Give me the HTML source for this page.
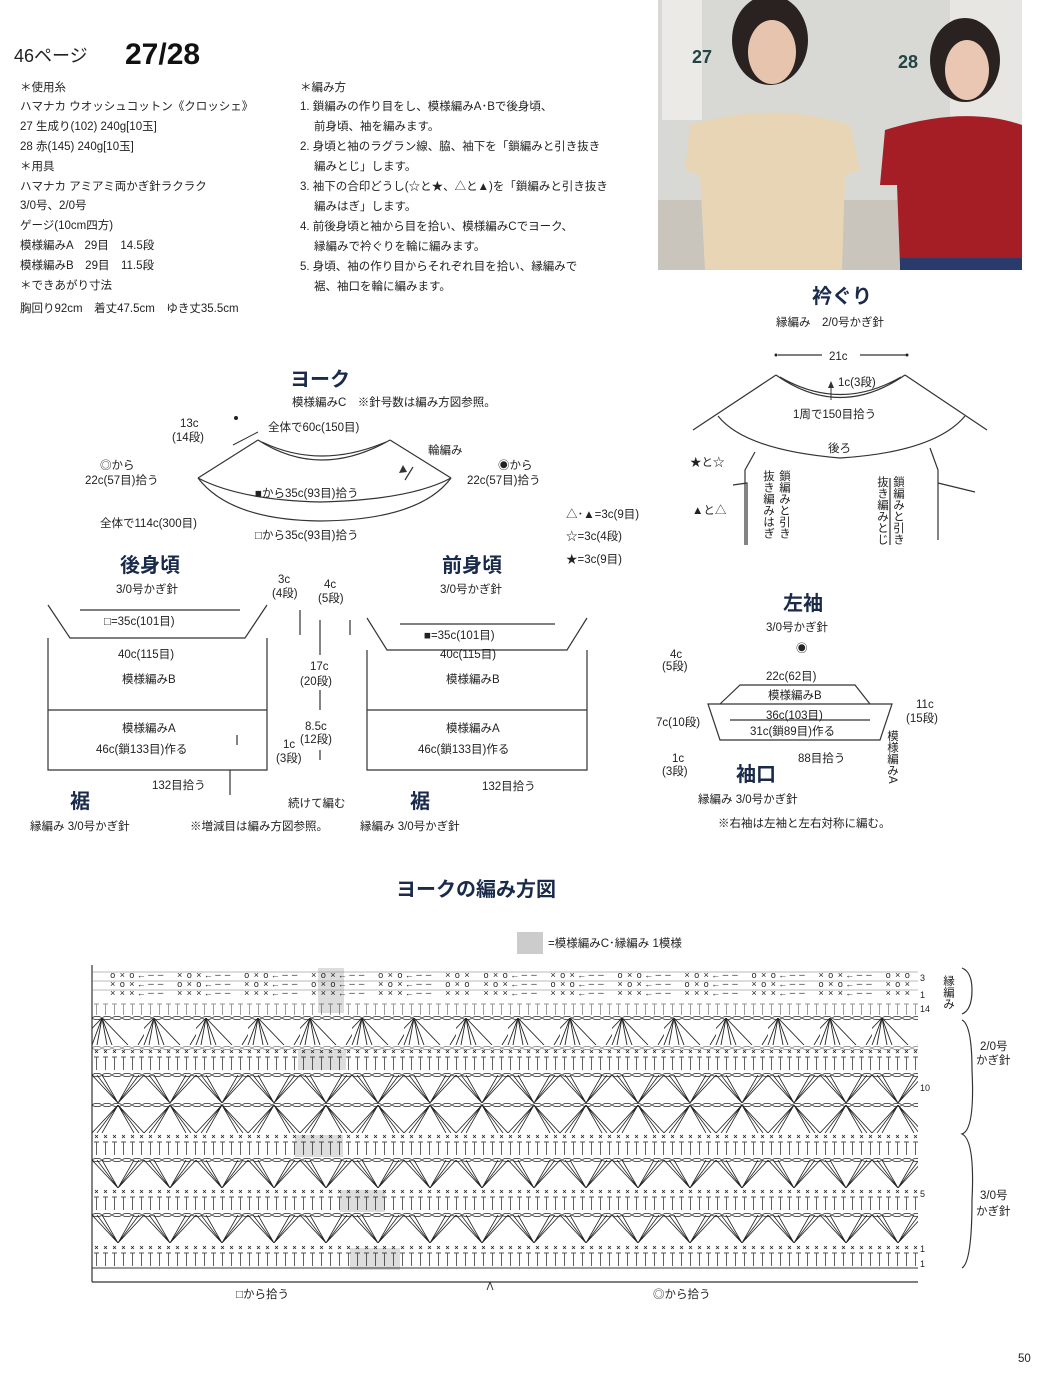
<!DOCTYPE html>
<html><head><meta charset="utf-8">
<style>
body{margin:0;background:#fff;}
svg{display:block;font-family:"Liberation Sans","Noto Sans CJK JP",sans-serif;}
.s{font-size:11.5px;fill:#222}
.h{font-size:20px;font-weight:bold;fill:#1a2a4a}
.ln{stroke:#333;fill:none;stroke-width:1.2}
.ch{font-family:"Liberation Mono",monospace;font-size:9px;fill:#222}
</style></head><body>
<svg width="1050" height="1389" viewBox="0 0 1050 1389">
<defs>
<pattern id="fanA" x="0" y="0" width="52" height="27" patternUnits="userSpaceOnUse">
<path d="M10 0 L0 27 M10 0 L5 27 M10 0 L15 27 M10 0 L20 27 M10 0 L36 27 M10 0 L-16 27" stroke="#222" stroke-width="0.9" fill="none"/>
<path d="M62 0 L52 27 M62 0 L46 27" stroke="#222" stroke-width="0.9" fill="none"/>
</pattern>
<pattern id="zigD" x="0" y="0" width="52" height="28" patternUnits="userSpaceOnUse">
<path d="M0 0 L26 28 L52 0 M5 0 L26 28 L47 0 M10 0 L26 28 L42 0" stroke="#222" stroke-width="0.8" fill="none"/>
</pattern>
<pattern id="zigU" x="0" y="0" width="52" height="28" patternUnits="userSpaceOnUse">
<path d="M0 28 L26 0 L52 28 M5 28 L26 0 L47 28 M10 28 L26 0 L42 28" stroke="#222" stroke-width="0.8" fill="none"/>
</pattern>
<pattern id="tt" x="0" y="0" width="9" height="14" patternUnits="userSpaceOnUse">
<path d="M2 1 H7 M4.5 1 V14" stroke="#222" stroke-width="0.9"/>
</pattern>
<pattern id="xx" x="0" y="0" width="9" height="8" patternUnits="userSpaceOnUse">
<path d="M3 2 L6 5 M6 2 L3 5" stroke="#222" stroke-width="0.8"/>
</pattern>
<pattern id="ov" x="0" y="0" width="10" height="6" patternUnits="userSpaceOnUse">
<ellipse cx="5" cy="3" rx="4.5" ry="1.6" stroke="#222" stroke-width="0.7" fill="none"/>
</pattern>
</defs>

<!-- header -->
<text x="14" y="62" style="font-size:18px;fill:#222">46ページ</text>
<text x="125" y="64" style="font-size:30px;font-weight:bold;fill:#111">27/28</text>
<g class="s">
<text x="20" y="91">＊使用糸</text>
<text x="20" y="110">ハマナカ ウオッシュコットン《クロッシェ》</text>
<text x="20" y="130">27 生成り(102) 240g[10玉]</text>
<text x="20" y="150">28 赤(145) 240g[10玉]</text>
<text x="20" y="170">＊用具</text>
<text x="20" y="190">ハマナカ アミアミ両かぎ針ラクラク</text>
<text x="20" y="209">3/0号、2/0号</text>
<text x="20" y="229">ゲージ(10cm四方)</text>
<text x="20" y="249">模様編みA　29目　14.5段</text>
<text x="20" y="269">模様編みB　29目　11.5段</text>
<text x="20" y="289">＊できあがり寸法</text>
<text x="20" y="312">胸回り92cm　着丈47.5cm　ゆき丈35.5cm</text>
<text x="300" y="91">＊編み方</text>
<text x="300" y="110">1. 鎖編みの作り目をし、模様編みA･Bで後身頃、</text>
<text x="314" y="130">前身頃、袖を編みます。</text>
<text x="300" y="150">2. 身頃と袖のラグラン線、脇、袖下を「鎖編みと引き抜き</text>
<text x="314" y="170">編みとじ」します。</text>
<text x="300" y="190">3. 袖下の合印どうし(☆と★、△と▲)を「鎖編みと引き抜き</text>
<text x="314" y="210">編みはぎ」します。</text>
<text x="300" y="230">4. 前後身頃と袖から目を拾い、模様編みCでヨーク、</text>
<text x="314" y="250">縁編みで衿ぐりを輪に編みます。</text>
<text x="300" y="270">5. 身頃、袖の作り目からそれぞれ目を拾い、縁編みで</text>
<text x="314" y="290">裾、袖口を輪に編みます。</text>
</g>

<!-- photo -->
<rect x="658" y="0" width="364" height="270" fill="#d8d8d4"/>
<rect x="662" y="0" width="40" height="120" fill="#eceae6"/>
<rect x="950" y="0" width="72" height="150" fill="#e8e6e2"/>
<rect x="658" y="200" width="364" height="70" fill="#c9c4bc"/>
<ellipse cx="770" cy="40" rx="38" ry="45" fill="#2a2220"/>
<ellipse cx="772" cy="52" rx="24" ry="32" fill="#e7c4ad"/>
<path d="M690 125 Q770 100 850 125 L860 170 L845 175 L842 270 L705 270 L700 175 L685 170 Z" fill="#e8d5b5"/>
<ellipse cx="965" cy="60" rx="35" ry="42" fill="#2a2220"/>
<ellipse cx="967" cy="70" rx="22" ry="30" fill="#e9c7b2"/>
<path d="M885 130 Q965 105 1022 125 L1022 265 L900 265 L897 185 L880 185 Z" fill="#a61e25"/>
<rect x="900" y="258" width="122" height="12" fill="#2a3a6a"/>
<text x="692" y="63" style="font-size:18px;font-weight:bold;fill:#244">27</text>
<text x="898" y="68" style="font-size:18px;font-weight:bold;fill:#244">28</text>

<!-- yoke -->
<text x="290" y="386" class="h">ヨーク</text>
<text x="292" y="406" class="s">模様編みC　※針号数は編み方図参照。</text>
<path class="ln" d="M198 478 L258 440 M390 440 L451 478"/>
<path class="ln" d="M258 440 Q320 480 390 440"/>
<path class="ln" d="M262 442 Q320 470 386 442"/>
<path class="ln" d="M198 478 Q230 520 320 521 Q420 520 451 478"/>
<path class="ln" d="M198 478 Q240 500 320 502 Q410 500 451 478"/>
<path d="M413 467 L405 480" stroke="#333" stroke-width="1.2"/><path d="M399 473 L403 465 L407 472Z" fill="#333"/>
<path d="M233 445 L258 432" stroke="#333"/><circle cx="236" cy="418" r="2" fill="#222"/>
<text x="180" y="427" class="s">13c</text><text x="172" y="441" class="s">(14段)</text>
<text x="268" y="431" class="s">全体で60c(150目)</text>
<text x="428" y="454" class="s">輪編み</text>
<text x="100" y="469" class="s">◎から</text><text x="85" y="484" class="s">22c(57目)拾う</text>
<text x="498" y="469" class="s">◉から</text><text x="467" y="484" class="s">22c(57目)拾う</text>
<text x="255" y="497" class="s">■から35c(93目)拾う</text>
<text x="100" y="527" class="s">全体で114c(300目)</text>
<text x="255" y="539" class="s">□から35c(93目)拾う</text>
<text x="566" y="518" class="s">△･▲=3c(9目)</text>
<text x="566" y="540" class="s">☆=3c(4段)</text>
<text x="566" y="563" class="s">★=3c(9目)</text>

<!-- neckline -->
<text x="812" y="303" class="h">衿ぐり</text>
<text x="776" y="326" class="s">縁編み　2/0号かぎ針</text>
<text x="829" y="360" class="s">21c</text>
<circle cx="776" cy="355" r="1.5" fill="#222"/><circle cx="907" cy="355" r="1.5" fill="#222"/>
<path class="ln" d="M778 355 H822 M860 355 H906"/>
<path class="ln" d="M693 430 L776 375 M905 375 L987 430"/>
<path class="ln" d="M776 375 Q840 420 905 375 M780 377 Q840 412 901 377"/>
<path class="ln" d="M718 416 Q745 450 840 458 Q935 452 965 416"/>
<path d="M831 400 V385" stroke="#333"/><path d="M828 388 L831 381 L834 388Z" fill="#333"/>
<text x="838" y="386" class="s">1c(3段)</text>
<text x="793" y="418" class="s">1周で150目拾う</text>
<text x="828" y="452" class="s">後ろ</text>
<path class="ln" d="M755 452 L745 470 V545 M733 485 L747 483 V545 M930 448 L938 470 V483 L975 492 M938 473 V540 M890 478 V545"/>
<text x="690" y="466" class="s">★と☆</text>
<text x="692" y="514" class="s">▲と△</text>
<text x="768" y="470" class="s" writing-mode="tb">抜き編みはぎ</text>
<text x="784" y="470" class="s" writing-mode="tb">鎖編みと引き</text>
<text x="882" y="476" class="s" writing-mode="tb">抜き編みとじ</text>
<text x="898" y="476" class="s" writing-mode="tb">鎖編みと引き</text>

<!-- back body -->
<text x="120" y="572" class="h">後身頃</text>
<text x="116" y="593" class="s">3/0号かぎ針</text>
<path class="ln" d="M48 605 L70 638 H245 L267 605 M48 638 V770 H267 V638 M48 710 H267"/>
<path class="ln" d="M80 610 H240"/>
<text x="104" y="625" class="s">□=35c(101目)</text>
<text x="118" y="658" class="s">40c(115目)</text>
<text x="122" y="683" class="s">模様編みB</text>
<text x="122" y="732" class="s">模様編みA</text>
<text x="96" y="753" class="s">46c(鎖133目)作る</text>
<text x="152" y="789" class="s">132目拾う</text>
<text x="70" y="808" class="h">裾</text>
<text x="30" y="830" class="s">縁編み 3/0号かぎ針</text>
<path class="ln" d="M230 795 V770 M237 745 V735"/>

<!-- middle dims -->
<text x="278" y="583" class="s">3c</text><text x="272" y="597" class="s">(4段)</text>
<text x="324" y="588" class="s">4c</text><text x="318" y="602" class="s">(5段)</text>
<text x="310" y="670" class="s">17c</text><text x="300" y="685" class="s">(20段)</text>
<text x="305" y="730" class="s">8.5c</text><text x="300" y="743" class="s">(12段)</text>
<text x="283" y="748" class="s">1c</text><text x="276" y="762" class="s">(3段)</text>
<path class="ln" d="M300 610 V635 M320 620 V655 M350 620 V635 M320 690 V710 M320 750 V760"/>
<text x="288" y="807" class="s">続けて編む</text>
<text x="190" y="830" class="s">※増減目は編み方図参照。</text>

<!-- front body -->
<text x="442" y="572" class="h">前身頃</text>
<text x="440" y="593" class="s">3/0号かぎ針</text>
<path class="ln" d="M367 618 L387 650 H567 L587 618 M367 650 V770 H587 V650 M367 710 H587"/>
<path class="ln" d="M400 624 H555"/>
<text x="424" y="639" class="s">■=35c(101目)</text>
<text x="440" y="658" class="s">40c(115目)</text>
<text x="446" y="683" class="s">模様編みB</text>
<text x="446" y="732" class="s">模様編みA</text>
<text x="418" y="753" class="s">46c(鎖133目)作る</text>
<text x="482" y="790" class="s">132目拾う</text>
<text x="410" y="808" class="h">裾</text>
<text x="360" y="830" class="s">縁編み 3/0号かぎ針</text>

<!-- sleeve -->
<text x="783" y="610" class="h">左袖</text>
<text x="766" y="631" class="s">3/0号かぎ針</text>
<text x="796" y="652" class="s">◉</text>
<text x="766" y="680" class="s">22c(62目)</text>
<path class="ln" d="M720 704 L740 685 H855 L870 704 M708 704 H892 L880 740 H720 Z M730 720 H870"/>
<text x="768" y="699" class="s">模様編みB</text>
<text x="766" y="719" class="s">36c(103目)</text>
<text x="750" y="735" class="s">31c(鎖89目)作る</text>
<text x="798" y="762" class="s">88目拾う</text>
<text x="670" y="658" class="s">4c</text><text x="662" y="670" class="s">(5段)</text>
<text x="656" y="726" class="s">7c(10段)</text>
<text x="672" y="762" class="s">1c</text><text x="662" y="775" class="s">(3段)</text>
<text x="916" y="708" class="s">11c</text><text x="906" y="722" class="s">(15段)</text>
<text x="892" y="730" class="s" writing-mode="tb">模様編みA</text>
<text x="736" y="781" class="h">袖口</text>
<text x="698" y="803" class="s">縁編み 3/0号かぎ針</text>
<text x="718" y="827" class="s">※右袖は左袖と左右対称に編む。</text>

<!-- chart title -->
<text x="396" y="896" class="h">ヨークの編み方図</text>
<rect x="517" y="932" width="26" height="22" fill="#ccc"/>
<text x="548" y="947" class="s">=模様編みC･縁編み 1模様</text>

<!-- chart -->
<path class="ln" d="M92 965 V1282 M92 1282 H918"/>
<rect x="318" y="968" width="26" height="45" fill="#ddd"/>
<rect x="298" y="1050" width="48" height="20" fill="#ddd"/>
<rect x="295" y="1135" width="48" height="22" fill="#ddd"/>
<rect x="340" y="1190" width="45" height="22" fill="#ddd"/>
<rect x="350" y="1248" width="50" height="22" fill="#ddd"/>
<g class="ch">
<text x="110" y="978" textLength="800" lengthAdjust="spacing">o×o←── ×o×←── o×o←── ×o×←── o×o←── ×o× o×o←── ×o×←── o×o←── ×o×←── o×o←── ×o×←── o×o</text>
<text x="110" y="987" textLength="800" lengthAdjust="spacing">×o×←── o×o←── ×o×←── o×o←── ×o×←── o×o ×o×←── o×o←── ×o×←── o×o←── ×o×←── o×o←── ×o×</text>
<text x="110" y="996" textLength="800" lengthAdjust="spacing">×××←── ×××←── ×××←── ×××←── ×××←── ××× ×××←── ×××←── ×××←── ×××←── ×××←── ×××←── ×××</text>
</g>
<path d="M92 972 H918 M92 981 H918 M92 990 H918" stroke="#777" stroke-width="0.5"/>
<g transform="translate(92,1003)"><rect width="826" height="12" fill="url(#tt)" opacity="0.5"/></g>
<g transform="translate(92,1015)"><rect width="826" height="5" fill="url(#ov)"/></g>
<g transform="translate(92,1018)"><rect width="826" height="27" fill="url(#fanA)"/></g>
<g transform="translate(92,1045)"><rect width="826" height="6" fill="url(#ov)" opacity="0.6"/></g>
<g transform="translate(92,1048)"><rect width="826" height="7" fill="url(#xx)"/></g>
<g transform="translate(92,1056)"><rect width="826" height="14" fill="url(#tt)" opacity="0.8"/></g>
<g transform="translate(92,1072)"><rect width="826" height="5" fill="url(#ov)"/></g>
<g transform="translate(92,1075)"><rect width="826" height="28" fill="url(#zigD)"/></g>
<g transform="translate(92,1102)"><rect width="826" height="5" fill="url(#ov)"/></g>
<g transform="translate(92,1105)"><rect width="826" height="28" fill="url(#zigU)"/></g>
<g transform="translate(92,1133)"><rect width="826" height="7" fill="url(#xx)"/></g>
<g transform="translate(92,1141)"><rect width="826" height="14" fill="url(#tt)" opacity="0.8"/></g>
<g transform="translate(92,1157)"><rect width="826" height="5" fill="url(#ov)"/></g>
<g transform="translate(92,1160)"><rect width="826" height="28" fill="url(#zigD)"/></g>
<g transform="translate(92,1188)"><rect width="826" height="7" fill="url(#xx)"/></g>
<g transform="translate(92,1196)"><rect width="826" height="14" fill="url(#tt)" opacity="0.8"/></g>
<g transform="translate(92,1212)"><rect width="826" height="5" fill="url(#ov)"/></g>
<g transform="translate(92,1215)"><rect width="826" height="28" fill="url(#zigD)"/></g>
<g transform="translate(92,1244)"><rect width="826" height="7" fill="url(#xx)"/></g>
<g transform="translate(92,1252)"><rect width="826" height="14" fill="url(#tt)" opacity="0.8"/></g>
<path d="M92 1268 H918" stroke="#333"/>
<path d="M490 1282 L487 1290 M490 1282 L493 1290" stroke="#333"/>
<text x="236" y="1298" class="s">□から拾う</text>
<text x="653" y="1298" class="s">◎から拾う</text>
<g style="font-size:9px;fill:#222">
<text x="920" y="981">3</text><text x="920" y="998">1</text><text x="920" y="1012">14</text>
<text x="920" y="1091">10</text><text x="920" y="1197">5</text><text x="920" y="1252">1</text><text x="920" y="1267">1</text>
</g>
<text x="948" y="975" class="s" writing-mode="tb">縁編み</text>
<path class="ln" d="M962 968 Q972 972 972 990 Q972 1010 962 1014 M962 1020 Q972 1025 972 1070 Q975 1130 962 1134 Q975 1140 972 1200 Q972 1262 962 1268"/>
<text x="980" y="1050" class="s">2/0号</text><text x="976" y="1064" class="s">かぎ針</text>
<text x="980" y="1199" class="s">3/0号</text><text x="976" y="1215" class="s">かぎ針</text>
<text x="1018" y="1362" class="s">50</text>
</svg>
</body></html>
